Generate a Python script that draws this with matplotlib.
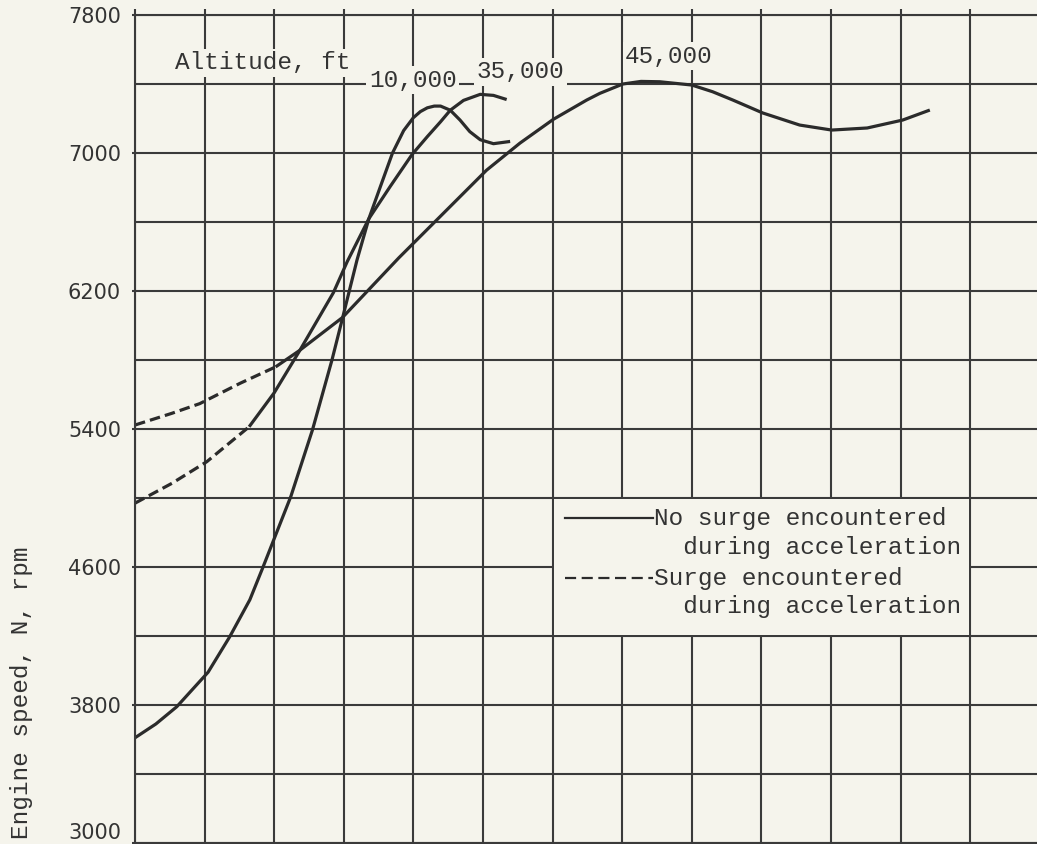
import numpy as np
import matplotlib
matplotlib.use('Agg')
import matplotlib.pyplot as plt
from matplotlib.patches import Rectangle

# ---- data (x in grid divisions, y in rpm) ----
# 10,000 ft : no surge
a_x = [0, 0.30, 0.60, 1.05, 1.36, 1.65, 1.83, 2.24, 2.55, 2.83, 2.98, 3.19, 3.36,
       3.53, 3.70, 3.86, 4.00, 4.10, 4.20, 4.30, 4.39, 4.53, 4.67, 4.81, 4.96, 5.15, 5.39]
a_y = [3610, 3690, 3790, 3990, 4195, 4410, 4590, 5010, 5395, 5800, 6040, 6380, 6619,
       6810, 7000, 7130, 7205, 7240, 7262, 7272, 7272, 7248, 7191, 7124, 7077, 7054, 7067]

# 35,000 ft : surge (dashed) then no surge
b_dash_x = [0, 0.53, 1.03, 1.64]
b_dash_y = [4970, 5085, 5210, 5413]
b_x = [1.64, 2.00, 2.36, 2.85, 3.05, 3.36, 3.67, 3.98, 4.20, 4.39, 4.53, 4.72, 4.96,
       5.15, 5.34]
b_y = [5413, 5610, 5850, 6190, 6371, 6619, 6808, 6991, 7095, 7181, 7248, 7305, 7340,
       7334, 7310]

# 45,000 ft : surge (dashed) then no surge
c_dash_x = [0, 0.53, 0.93, 1.51, 2.02]
c_dash_y = [5423, 5491, 5547, 5665, 5760]
c_x = [2.02, 2.36, 2.98, 3.79, 4.43, 5.05, 5.53, 6.01, 6.49, 6.68, 7.01, 7.27, 7.54,
       8.00, 8.30, 8.59, 9.02, 9.55, 10.01, 10.52, 11.03, 11.42]
c_y = [5760, 5854, 6046, 6392, 6650, 6900, 7057, 7195, 7307, 7346, 7400, 7415, 7413,
       7394, 7355, 7307, 7232, 7162, 7133, 7145, 7191, 7249]

alt_labels = ['10,000', '35,000', '45,000']
y_ticks = [3000, 3800, 4600, 5400, 6200, 7000, 7800]
y_grid = list(range(3000, 7801, 400))
x_grid = list(range(0, 15))

bg = '#f5f4ec'
ink = '#2b2b2b'
gridc = '#3a3a3a'
mono = 'Liberation Mono'

fig = plt.figure(figsize=(10.37, 8.44), dpi=100, facecolor=bg)
ax = fig.add_axes([135 / 1037, 1 / 844, 14 * 69.6 / 1037, 828 / 844])
ax.set_facecolor(bg)
ax.set_xlim(0, 14)
ax.set_ylim(3000, 7800)

ax.set_xticks(x_grid)
ax.set_xticklabels([])
ax.set_yticks(y_grid, minor=True)
ax.set_yticks(y_ticks)
ax.set_yticklabels([str(v) for v in y_ticks], fontfamily='DejaVu Sans', fontsize=15, color='#333333')
ax.get_yticklabels()[0].set_va('bottom')
ax.set_axisbelow(True)
ax.grid(True, which='both', color=gridc, lw=1.5)
ax.tick_params(axis='x', which='both', top=True, bottom=False, direction='out',
               length=4, width=1.5, color=gridc)
ax.tick_params(axis='y', which='major', length=2, width=1.5, color=gridc, pad=8)
ax.tick_params(axis='y', which='minor', length=0)
for s in ax.spines.values():
    s.set_color(gridc)
    s.set_linewidth(1.5)

# blank area behind the key
ax.add_patch(Rectangle((6.02, 4207), 5.96, 786, facecolor=bg, edgecolor='none', zorder=1))

lw = 2.3
dash = (0, (3.3, 1.6))
ax.plot(a_x, a_y, color=ink, lw=lw, zorder=2, solid_capstyle='butt', solid_joinstyle='round')
ax.plot(b_x, b_y, color=ink, lw=lw, zorder=2, solid_capstyle='butt', solid_joinstyle='round')
ax.plot(b_dash_x, b_dash_y, color=ink, lw=lw, ls=dash, zorder=2)
ax.plot(c_x, c_y, color=ink, lw=lw, zorder=2, solid_capstyle='butt', solid_joinstyle='round')
ax.plot(c_dash_x, c_dash_y, color=ink, lw=lw, ls=dash, zorder=2)

box = dict(boxstyle='square,pad=0.1', fc=bg, ec='none')
tkw = dict(fontfamily=mono, fontsize=17.6, color='#333333', va='center', ha='left', zorder=4)
ax.text(0.575, 7522, 'Altitude, ft', bbox=box, **tkw)
ax.text(3.36, 7423, alt_labels[0], bbox=box, **tkw)
ax.text(4.91, 7472, alt_labels[1], bbox=box, **tkw)
ax.text(7.04, 7562, alt_labels[2], bbox=box, **tkw)

# key
ax.plot([6.18, 7.44], [4884, 4884], color=ink, lw=1.6, zorder=3)
ax.plot([6.18, 7.44], [4536, 4536], color=ink, lw=1.6, ls=(0, (5, 2.5)), zorder=3)
ax.text(7.46, 4795, 'No surge encountered\n  during acceleration', linespacing=1.32, **tkw)
ax.text(7.46, 4452, 'Surge encountered\n  during acceleration', linespacing=1.32, **tkw)

fig.text(22 / 1037, 1 - 693 / 844, 'Engine speed, N, rpm', rotation=90, fontfamily=mono,
         fontsize=17.6, color='#333333', ha='center', va='center')

fig.savefig('out.png', dpi=100, facecolor=bg)
